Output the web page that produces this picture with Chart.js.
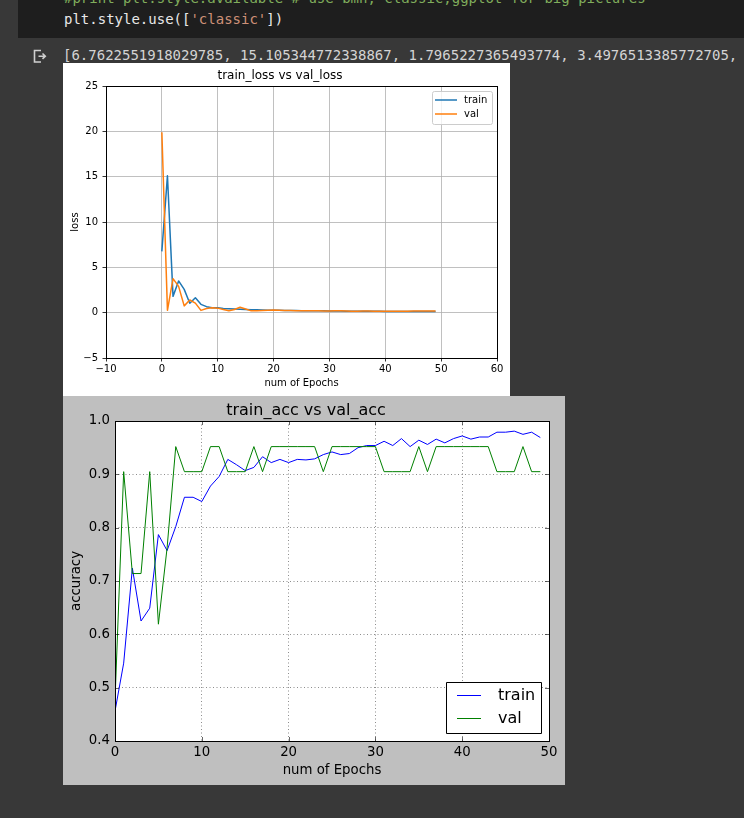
<!DOCTYPE html>
<html>
<head>
<meta charset="utf-8">
<script src="https://cdn.jsdelivr.net/npm/chart.js@4/dist/chart.umd.min.js"></script>
<style>
  html, body { margin:0; padding:0; }
  body { background:#383838; width:744px; height:818px; overflow:hidden; position:relative; }
  #cell { position:absolute; left:18px; top:0; width:726px; height:38px; background:#1e1e1e; overflow:hidden; }
  .mono { font-family:"DejaVu Sans Mono", monospace; font-size:14px; line-height:21px; white-space:pre; }
  #code { position:absolute; left:46px; top:-12.5px; color:#e8e8e8; }
  .cm { color:#80ad5c; }
  .st { color:#ce9178; }
  #out { position:absolute; left:63px; top:44.5px; color:#d4d4d4; }
  #icon { position:absolute; left:32px; top:48px; }
  #lossBox { position:absolute; left:63px; top:63px; width:447px; height:333px; background:#ffffff; }
  #accBox { position:absolute; left:63px; top:396px; width:502px; height:389px; background:#bfbfbf; }
  canvas { display:block; }
</style>
</head>
<body>
<div id="cell"><div id="code" class="mono"><span class="cm">#print plt.style.available # use bmh, classic,ggplot for big pictures</span>
plt.style.use([<span class="st">'classic'</span>])</div></div>
<svg id="icon" width="16" height="16" viewBox="0 0 16 16">
  <path d="M9 2.5 H2.5 V14 H9" fill="none" stroke="#cfcfcf" stroke-width="1.6"/>
  <path d="M6.5 8.2 H13 M10.5 5.5 L13.3 8.2 L10.5 10.9" fill="none" stroke="#cfcfcf" stroke-width="1.6"/>
</svg>
<div id="out" class="mono">[6.7622551918029785, 15.105344772338867, 1.7965227365493774, 3.4976513385772705,</div>
<div id="lossBox"><canvas id="loss" width="447" height="333"></canvas></div>
<div id="accBox"><canvas id="acc" width="502" height="389"></canvas></div>
<script>
// ---------- data ----------
const epochs = [0,1,2,3,4,5,6,7,8,9,10,11,12,13,14,15,16,17,18,19,20,21,22,23,24,25,26,27,28,29,30,31,32,33,34,35,36,37,38,39,40,41,42,43,44,45,46,47,48,49];
const seriesLabels = ['train', 'val'];

const trainLoss = [6.762, 15.105, 1.797, 3.498, 2.57, 1.03, 1.65, 0.92, 0.66, 0.55,
  0.55, 0.45, 0.42, 0.40, 0.38, 0.35, 0.33, 0.32, 0.30, 0.28,
  0.27, 0.26, 0.25, 0.24, 0.23, 0.22, 0.22, 0.21, 0.20, 0.20,
  0.19, 0.18, 0.18, 0.17, 0.17, 0.16, 0.16, 0.15, 0.15, 0.15,
  0.14, 0.14, 0.14, 0.13, 0.13, 0.13, 0.12, 0.12, 0.12, 0.12];
const valLoss = [19.9, 0.26, 3.75, 2.9, 0.75, 1.4, 1.05, 0.25, 0.45, 0.55,
  0.50, 0.35, 0.20, 0.35, 0.60, 0.40, 0.20, 0.22, 0.25, 0.28,
  0.30, 0.28, 0.25, 0.25, 0.22, 0.20, 0.20, 0.22, 0.20, 0.18,
  0.18, 0.20, 0.20, 0.18, 0.17, 0.17, 0.18, 0.18, 0.17, 0.16,
  0.17, 0.17, 0.17, 0.16, 0.17, 0.18, 0.18, 0.18, 0.18, 0.18];

const trainAcc = [0.456, 0.546, 0.724, 0.625, 0.649, 0.787, 0.757, 0.802, 0.857, 0.857,
  0.849, 0.878, 0.896, 0.928, 0.918, 0.907, 0.913, 0.933, 0.922, 0.928,
  0.922, 0.928, 0.927, 0.929, 0.937, 0.942, 0.937, 0.939, 0.950, 0.954,
  0.954, 0.962, 0.954, 0.967, 0.952, 0.964, 0.956, 0.966, 0.959, 0.967,
  0.972, 0.966, 0.970, 0.970, 0.979, 0.979, 0.981, 0.975, 0.979, 0.969];
const valAcc = [0.476, 0.905, 0.714, 0.714, 0.905, 0.619, 0.762, 0.952, 0.905, 0.905,
  0.905, 0.952, 0.952, 0.905, 0.905, 0.905, 0.952, 0.905, 0.952, 0.952,
  0.952, 0.952, 0.952, 0.952, 0.905, 0.952, 0.952, 0.952, 0.952, 0.952,
  0.952, 0.905, 0.905, 0.905, 0.905, 0.952, 0.905, 0.952, 0.952, 0.952,
  0.952, 0.952, 0.952, 0.952, 0.905, 0.905, 0.905, 0.952, 0.905, 0.905];

const lossXTicks = [-10, 0, 10, 20, 30, 40, 50, 60];
const lossYTicks = [-5, 0, 5, 10, 15, 20, 25];
const accXTicks = [0, 10, 20, 30, 40, 50];
const accYTicks = [0.4, 0.5, 0.6, 0.7, 0.8, 0.9, 1.0];

// ---------- helpers ----------
Chart.defaults.font.family = '"DejaVu Sans", sans-serif';
Chart.defaults.color = '#000';

const pts = (xs, ys) => xs.map((x, i) => ({ x: x, y: ys[i] }));
const fmtMinus = v => (v < 0 ? '\u2212' + Math.abs(v) : String(v));
const setTicks = arr => (s => { s.ticks = arr.map(v => ({ value: v })); });

function framePlugin(o) {
  return {
    id: 'frame_' + o.key,
    beforeDraw(chart) {
      if (!o.plotBg) return;
      const { ctx, chartArea: a } = chart;
      ctx.save();
      ctx.fillStyle = o.plotBg;
      ctx.fillRect(a.left, a.top, a.right - a.left, a.bottom - a.top);
      ctx.restore();
    },
    afterDatasetsDraw(chart) {
      const { ctx, chartArea: a, scales } = chart;
      ctx.save();
      ctx.strokeStyle = '#000';
      if (o.inTicks) {
        ctx.lineWidth = o.tickWidth;
        ctx.beginPath();
        scales.x.ticks.forEach(t => {
          const p = Math.round(scales.x.getPixelForValue(t.value)) + 0.5;
          ctx.moveTo(p, a.bottom); ctx.lineTo(p, a.bottom - o.tickLen);
          ctx.moveTo(p, a.top); ctx.lineTo(p, a.top + o.tickLen);
        });
        scales.y.ticks.forEach(t => {
          const p = Math.round(scales.y.getPixelForValue(t.value)) + 0.5;
          ctx.moveTo(a.left, p); ctx.lineTo(a.left + o.tickLen, p);
          ctx.moveTo(a.right, p); ctx.lineTo(a.right - o.tickLen, p);
        });
        ctx.stroke();
      }
      ctx.lineWidth = o.lw;
      ctx.strokeRect(Math.round(a.left) + 0.5, Math.round(a.top) + 0.5,
                     Math.round(a.right - a.left), Math.round(a.bottom - a.top));
      ctx.restore();
    }
  };
}

function boxLegend(o) {
  return {
    id: 'legend_' + o.key,
    afterDraw(chart) {
      const ctx = chart.ctx;
      ctx.save();
      ctx.beginPath();
      if (o.radius) {
        ctx.roundRect(o.x + 0.5, o.y + 0.5, o.w, o.h, o.radius);
      } else {
        ctx.rect(o.x + 0.5, o.y + 0.5, o.w, o.h);
      }
      ctx.fillStyle = o.bg;
      ctx.fill();
      ctx.strokeStyle = o.edge;
      ctx.lineWidth = 1;
      ctx.stroke();
      chart.data.datasets.forEach((ds, i) => {
        const y = o.y0 + i * o.dy;
        ctx.strokeStyle = ds.borderColor;
        ctx.lineWidth = ds.borderWidth;
        ctx.beginPath();
        ctx.moveTo(o.hx0, y); ctx.lineTo(o.hx1, y);
        ctx.stroke();
        ctx.fillStyle = '#000';
        ctx.font = o.font;
        ctx.textBaseline = 'middle';
        ctx.textAlign = 'left';
        ctx.fillText(ds.label, o.tx, y);
      });
      ctx.restore();
    }
  };
}

const lineStyle = { pointRadius: 0, tension: 0, borderJoinStyle: 'round', borderCapStyle: 'butt' };

// ---------- loss chart ----------
new Chart(document.getElementById('loss'), {
  type: 'line',
  data: {
    datasets: [
      Object.assign({ label: seriesLabels[0], data: pts(epochs, trainLoss), borderColor: '#1f77b4', borderWidth: 1.5, order: 1 }, lineStyle),
      Object.assign({ label: seriesLabels[1], data: pts(epochs, valLoss), borderColor: '#ff7f0e', borderWidth: 1.5, order: 0 }, lineStyle)
    ]
  },
  options: {
    responsive: false, animation: false, devicePixelRatio: 1,
    events: [],
    layout: { padding: { left: 0, right: 13, top: 0, bottom: 0 } },
    plugins: {
      legend: { display: false },
      tooltip: { enabled: false },
      title: { display: true, text: 'train_loss vs val_loss', color: '#000',
               font: { size: 12, weight: 'normal', lineHeight: 1.2 }, padding: { top: 6, bottom: 2.6 } }
    },
    scales: {
      x: {
        type: 'linear', min: -10, max: 60,
        afterBuildTicks: setTicks(lossXTicks),
        afterFit: s => { s.height = 38; },
        ticks: { font: { size: 10 }, color: '#000', padding: 2, maxRotation: 0, callback: fmtMinus },
        grid: { color: '#b0b0b0', lineWidth: 0.8, tickColor: '#000', tickLength: 3.5, tickWidth: 0.8 },
        border: { display: false },
        title: { display: true, text: 'num of Epochs', color: '#000', font: { size: 10, lineHeight: 1.2 }, padding: { top: 0, bottom: 7 } }
      },
      y: {
        type: 'linear', min: -5, max: 25,
        afterBuildTicks: setTicks(lossYTicks),
        afterFit: s => { s.width = 43; },
        ticks: { font: { size: 10 }, color: '#000', padding: 4.5, callback: fmtMinus },
        grid: { color: '#b0b0b0', lineWidth: 0.8, tickColor: '#000', tickLength: 3.5, tickWidth: 0.8 },
        border: { display: false },
        title: { display: true, text: 'loss', color: '#000', font: { size: 10, lineHeight: 1.2 }, padding: { top: 6, bottom: 0 } }
      }
    }
  },
  plugins: [
    framePlugin({ key: 'loss', lw: 1, inTicks: false }),
    boxLegend({ key: 'loss', x: 369, y: 28, w: 60, h: 33, radius: 2, bg: 'rgba(255,255,255,0.8)', edge: '#cccccc',
                hx0: 372, hx1: 394, y0: 37, dy: 14, tx: 401, font: '10px "DejaVu Sans"' })
  ]
});

// ---------- accuracy chart ----------
new Chart(document.getElementById('acc'), {
  type: 'line',
  data: {
    datasets: [
      Object.assign({ label: seriesLabels[0], data: pts(epochs, trainAcc), borderColor: '#0000ff', borderWidth: 1, order: 1 }, lineStyle),
      Object.assign({ label: seriesLabels[1], data: pts(epochs, valAcc), borderColor: '#008000', borderWidth: 1, order: 0 }, lineStyle)
    ]
  },
  options: {
    responsive: false, animation: false, devicePixelRatio: 1,
    events: [],
    layout: { padding: { left: 0, right: 16, top: 0, bottom: 0 } },
    plugins: {
      legend: { display: false },
      tooltip: { enabled: false },
      title: { display: true, text: 'train_acc vs val_acc', color: '#000',
               font: { size: 16, weight: 'normal', lineHeight: 1.2 }, padding: { top: 5.4, bottom: 0.4 } }
    },
    scales: {
      x: {
        type: 'linear', min: 0, max: 50,
        afterBuildTicks: setTicks(accXTicks),
        afterFit: s => { s.height = 44; },
        ticks: { font: { size: 13.3 }, color: '#000', padding: 4, maxRotation: 0 },
        grid: { color: 'rgba(0,0,0,0.75)', lineWidth: 0.6, drawTicks: false },
        border: { display: false, dash: [1, 2.5] },
        title: { display: true, text: 'num of Epochs', color: '#000', font: { size: 13.3, lineHeight: 1.2 }, padding: { top: 0, bottom: 6.2 } }
      },
      y: {
        type: 'linear', min: 0.4, max: 1.0,
        afterBuildTicks: setTicks(accYTicks),
        afterFit: s => { s.width = 52; },
        ticks: { font: { size: 13.3 }, color: '#000', padding: 5, callback: v => v.toFixed(1) },
        grid: { color: 'rgba(0,0,0,0.75)', lineWidth: 0.6, drawTicks: false },
        border: { display: false, dash: [1, 2.5] },
        title: { display: true, text: 'accuracy', color: '#000', font: { size: 13.3, lineHeight: 1.2 }, padding: { top: 6, bottom: 0 } }
      }
    }
  },
  plugins: [
    framePlugin({ key: 'acc', lw: 1, inTicks: true, tickLen: 4, tickWidth: 0.6, plotBg: '#ffffff' }),
    boxLegend({ key: 'acc', x: 383, y: 286, w: 95, h: 51, radius: 0, bg: '#ffffff', edge: '#000000',
                hx0: 394, hx1: 418, y0: 299.5, dy: 23, tx: 435, font: '16px "DejaVu Sans"' })
  ]
});
</script>
</body>
</html>
